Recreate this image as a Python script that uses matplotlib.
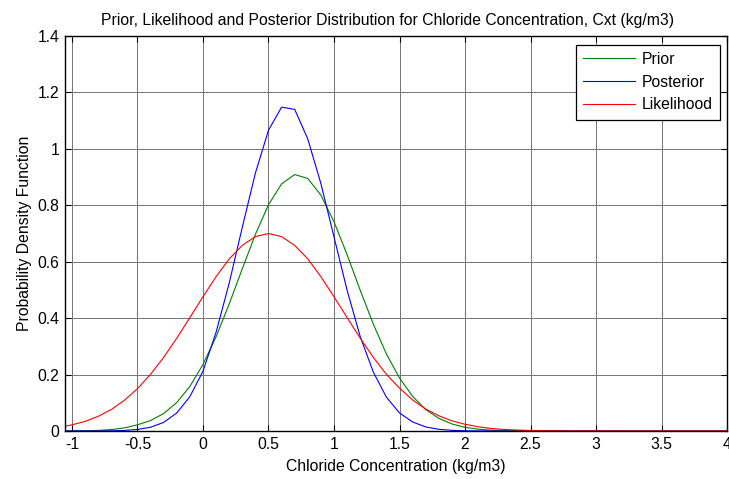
import matplotlib
matplotlib.use("Agg")
import matplotlib.pyplot as plt

plt.rcParams['font.family'] = ['Liberation Sans', 'DejaVu Sans']
plt.rcParams['axes.unicode_minus'] = False

x = [-1.05, -1.0, -0.9, -0.8, -0.7, -0.6, -0.5, -0.4, -0.3, -0.2, -0.1,
     0.0, 0.1, 0.2, 0.3, 0.4, 0.5, 0.6, 0.7, 0.8, 0.9,
     1.0, 1.1, 1.2, 1.3, 1.4, 1.5, 1.6, 1.7, 1.8, 1.9,
     2.0, 2.1, 2.2, 2.3, 2.4, 2.5, 2.6, 2.7, 2.8, 2.9,
     3.0, 3.1, 3.2, 3.3, 3.4, 3.5, 3.6, 3.7, 3.8, 3.9, 4.0]

prior = [0.0003, 0.0004, 0.001, 0.0022, 0.005, 0.011, 0.022, 0.037, 0.062, 0.101, 0.158,
         0.236, 0.334, 0.450, 0.575, 0.697, 0.802, 0.876, 0.909, 0.895, 0.836,
         0.742, 0.625, 0.499, 0.379, 0.273, 0.188, 0.123, 0.076, 0.045, 0.025,
         0.013, 0.0064, 0.003, 0.0014, 0.0006, 0.0002, 0.0001, 0.0, 0.0, 0.0,
         0.0, 0.0, 0.0, 0.0, 0.0, 0.0, 0.0, 0.0, 0.0, 0.0, 0.0]

posterior = [0.0, 0.0, 0.0001, 0.0002, 0.0007, 0.002, 0.0055, 0.0134, 0.0305, 0.064, 0.122,
             0.212, 0.350, 0.524, 0.722, 0.914, 1.066, 1.148, 1.140, 1.035, 0.877,
             0.688, 0.499, 0.335, 0.209, 0.120, 0.064, 0.032, 0.0144, 0.0061, 0.0024,
             0.0008, 0.0003, 0.0001, 0.0, 0.0, 0.0, 0.0, 0.0, 0.0, 0.0,
             0.0, 0.0, 0.0, 0.0, 0.0, 0.0, 0.0, 0.0, 0.0, 0.0, 0.0]

likelihood = [0.0174, 0.022, 0.034, 0.052, 0.076, 0.109, 0.150, 0.201, 0.261, 0.329, 0.402,
              0.476, 0.547, 0.610, 0.658, 0.689, 0.700, 0.689, 0.658, 0.610, 0.547,
              0.476, 0.402, 0.329, 0.261, 0.201, 0.152, 0.110, 0.078, 0.054, 0.036,
              0.024, 0.015, 0.009, 0.0055, 0.0033, 0.002, 0.0012, 0.0008, 0.0005, 0.0004,
              0.0003, 0.0003, 0.0002, 0.0002, 0.0002, 0.0002, 0.0002, 0.0002, 0.0002, 0.0002, 0.0002]

xticks = [-1, -0.5, 0, 0.5, 1, 1.5, 2, 2.5, 3, 3.5, 4]
xtick_labels = ['-1', '-0.5', '0', '0.5', '1', '1.5', '2', '2.5', '3', '3.5', '4']
yticks = [0, 0.2, 0.4, 0.6, 0.8, 1.0, 1.2, 1.4]
ytick_labels = ['0', '0.2', '0.4', '0.6', '0.8', '1', '1.2', '1.4']

FS = 11.3

fig = plt.figure(figsize=(7.29, 4.79), dpi=100)
ax = fig.add_axes([0.0892, 0.1002, 0.9081, 0.8246])

ax.plot(x, prior, color='#008000', lw=0.8, label='Prior')
ax.plot(x, posterior, color='#0000ff', lw=0.8, label='Posterior')
ax.plot(x, likelihood, color='#ff0000', lw=0.8, label='Likelihood')

ax.set_xlim(-1.053, 4)
ax.set_ylim(0, 1.4)
ax.set_xticks(xticks)
ax.set_xticklabels(xtick_labels)
ax.set_yticks(yticks)
ax.set_yticklabels(ytick_labels)
ax.tick_params(direction='in', top=True, right=True, labelsize=FS, length=4, width=0.8, pad=4)
ax.grid(True, color='0.45', lw=0.7, ls='-')
ax.set_axisbelow(True)
for s in ax.spines.values():
    s.set_linewidth(1.0)
    s.set_color('black')

ax.set_title('Prior, Likelihood and Posterior Distribution for Chloride Concentration, Cxt (kg/m3)',
             fontsize=FS, pad=8, x=0.487)
ax.set_xlabel('Chloride Concentration (kg/m3)', fontsize=FS, labelpad=5)
ax.set_ylabel('Probability Density Function', fontsize=FS, labelpad=4)

leg = ax.legend(loc='upper right', bbox_to_anchor=(0.9895, 0.978), fontsize=FS,
                handlelength=3.3, fancybox=False, framealpha=1, edgecolor='black',
                borderaxespad=0, labelspacing=0.5, handletextpad=0.45, borderpad=0.45)
leg.get_frame().set_linewidth(0.9)

fig.savefig('out.png', dpi=100)
